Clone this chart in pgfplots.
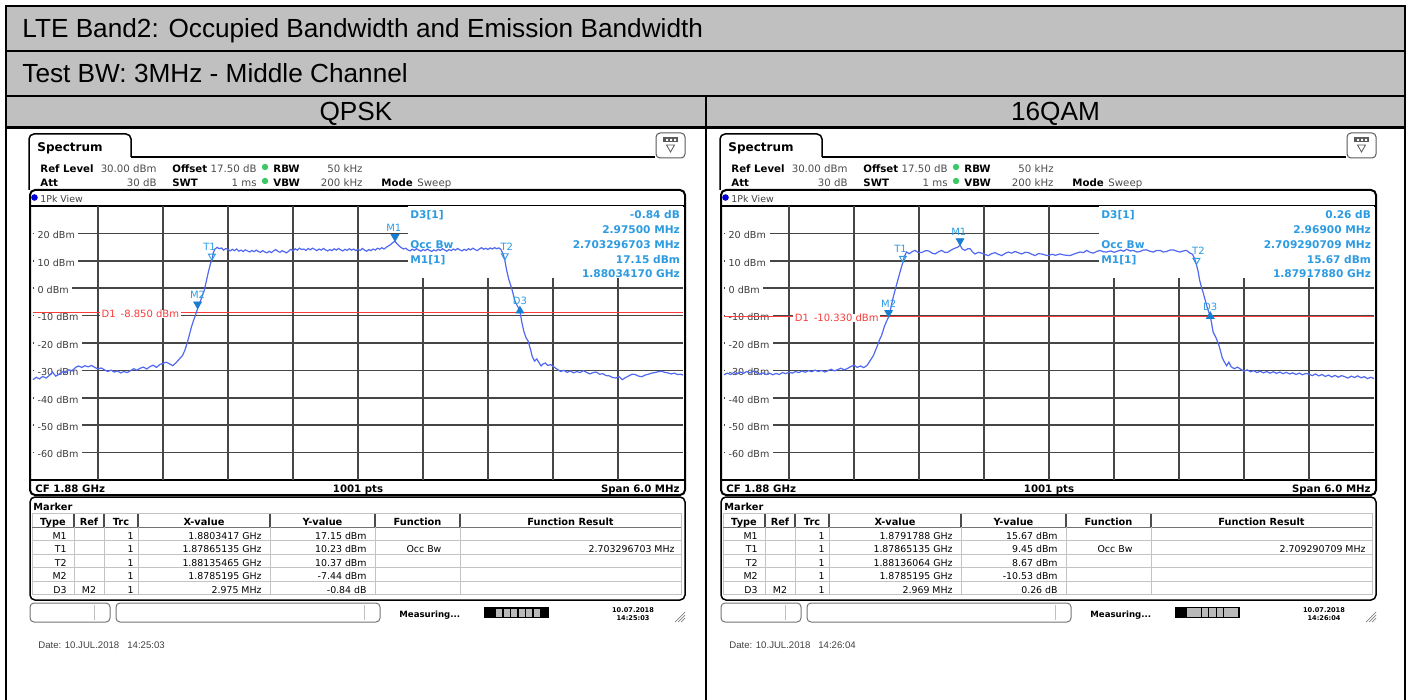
\documentclass[border=0pt]{standalone}
\usepackage{pgfplots}
\pgfplotsset{compat=1.18}
\usepackage{fontspec}
\setmainfont{Liberation Sans}
\newfontfamily\rs{DejaVu Sans}
\newcommand\fs[1]{\fontsize{#1pt}{#1pt}\selectfont}
\definecolor{tgray}{RGB}{192,192,192}
\definecolor{trc}{RGB}{80,105,240}
\definecolor{mk}{RGB}{45,155,225}
\definecolor{mkd}{RGB}{25,125,210}
\definecolor{dred}{RGB}{250,60,60}
\definecolor{gridc}{RGB}{70,70,70}
\definecolor{lbl}{RGB}{60,60,60}
\definecolor{tline}{RGB}{195,195,195}
\definecolor{dotg}{RGB}{60,200,100}

\pgfplotsset{spec/.style={
  scale only axis, width=325pt, height=137pt, anchor=north west,
  xmin=-3, xmax=3, ymin=-70, ymax=30,
  xtick={-2.4,-1.8,-1.2,-0.6,0,0.6,1.2,1.8,2.4},
  ytick={-60,-50,-40,-30,-20,-10,0,10,20},
  xticklabels={}, yticklabels={}, major tick length=0pt,
  grid=major, major grid style={draw=gridc, line width=0.75pt},
  axis line style={draw=none}, clip=false,
}}

\newcommand\axcommon{%
  \fill[white] (axis cs:0.4615,30) rectangle (axis cs:3,3.7);
  \pgfplotsinvokeforeach{20,10,0,-10,-20,-30,-40,-50,-60}{%
    \node[anchor=mid west, fill=white, inner xsep=1.8pt, inner ysep=0.3pt, text=lbl, xshift=0.3pt]
      at (axis cs:-3,##1) {\rs\fs{4.8}##1 dBm};}%
}
\newcommand\infobox[5]{%
  \node[anchor=mid west, text=mk, inner sep=0pt] at (axis cs:0.48,27.4) {\rs\bfseries\fs{5.3}D3[1]};
  \node[anchor=mid west, text=mk, inner sep=0pt] at (axis cs:0.48,16.5) {\rs\bfseries\fs{5.3}Occ Bw};
  \node[anchor=mid west, text=mk, inner sep=0pt] at (axis cs:0.48,11.0) {\rs\bfseries\fs{5.3}M1[1]};
  \node[anchor=mid east, text=mk, inner sep=0pt] at (axis cs:2.975,27.4) {\rs\bfseries\fs{5.3}#1};
  \node[anchor=mid east, text=mk, inner sep=0pt] at (axis cs:2.975,21.9) {\rs\bfseries\fs{5.3}#2};
  \node[anchor=mid east, text=mk, inner sep=0pt] at (axis cs:2.975,16.5) {\rs\bfseries\fs{5.3}#3};
  \node[anchor=mid east, text=mk, inner sep=0pt] at (axis cs:2.975,11.0) {\rs\bfseries\fs{5.3}#4};
  \node[anchor=mid east, text=mk, inner sep=0pt] at (axis cs:2.975,5.9) {\rs\bfseries\fs{5.3}#5};
}
\newcommand\markers[5]{%
  \addplot[only marks, mark=triangle, mark size=2pt, mark options={yshift=2pt, rotate=180, draw=mk, line width=0.45pt}] coordinates {(#1) (#2)};
  \addplot[only marks, mark=triangle*, mark size=2.2pt, mark options={yshift=2.2pt, rotate=180, fill=mkd, draw=mkd}] coordinates {(#3) (#4)};
  \addplot[only marks, mark=triangle*, mark size=2.2pt, mark options={fill=mkd, draw=mkd}] coordinates {(#5)};
  \node[anchor=south, text=mk, inner sep=0pt, xshift=-1.2pt, yshift=4.6pt] at (axis cs:#1) {\rs\fs{5}T1};
  \node[anchor=south, text=mk, inner sep=0pt, xshift=1.0pt, yshift=4.6pt] at (axis cs:#2) {\rs\fs{5}T2};
  \node[anchor=south, text=mk, inner sep=0pt, xshift=-0.6pt, yshift=4.8pt] at (axis cs:#3) {\rs\fs{5}M1};
  \node[anchor=south, text=mk, inner sep=0pt, yshift=4.8pt] at (axis cs:#4) {\rs\fs{5}M2};
  \node[anchor=south, text=mk, inner sep=0pt, yshift=2.8pt] at (axis cs:#5) {\rs\fs{5}D3};
}
\newcommand\mrow[7]{%
  \node[anchor=mid east] at (67,#1) {\rs\fs{4.7}#2};
  \node[anchor=mid] at (89,#1) {\rs\fs{4.7}#3};
  \node[anchor=mid east] at (134,#1) {\rs\fs{4.7}1};
  \node[anchor=mid east] at (262,#1) {\rs\fs{4.7}#4};
  \node[anchor=mid east] at (367,#1) {\rs\fs{4.7}#5};
  \node[anchor=mid] at (424,#1) {\rs\fs{4.7}#6};
  \node[anchor=mid east] at (675,#1) {\rs\fs{4.7}#7};
}
\newcommand\screen[4]{%
\begin{scope}[every node/.style={inner sep=0pt}]
  \draw[line width=0.75pt, rounded corners=2.5pt] (29,190) -- (29,134) -- (131,134) -- (131,157);
  \draw[line width=0.75pt] (131,157) -- (655,157);
  \draw[line width=0.5pt, draw=black!65, fill=white, rounded corners=2pt] (656,133) rectangle (685,158);
  \fill[black!65] (663,137) rectangle (678,142.5);
  \fill[white] (666,139) rectangle (668,141) (670,139) rectangle (672,141) (674,139) rectangle (676,141);
  \draw[black!65, line width=0.4pt] (666.5,145) -- (674.5,145) -- (670.5,152) -- cycle;
  \node[anchor=mid west] at (37,146) {\rs\bfseries\fs{6}Spectrum};
  \node[anchor=mid west] at (40,167) {\rs\bfseries\fs{5.1}Ref Level};
  \node[anchor=mid east, text=black!70] at (157,167) {\rs\fs{5.1}30.00 dBm};
  \node[anchor=mid west] at (172,167) {\rs\bfseries\fs{5.1}Offset};
  \node[anchor=mid east, text=black!70] at (257,167) {\rs\fs{5.1}17.50 dB};
  \fill[dotg] (265,167) circle (3.2);
  \node[anchor=mid west] at (273,167) {\rs\bfseries\fs{5.1}RBW};
  \node[anchor=mid east, text=black!70] at (363,167) {\rs\fs{5.1}50 kHz};
  \node[anchor=mid west] at (40,181) {\rs\bfseries\fs{5.1}Att};
  \node[anchor=mid east, text=black!70] at (157,181) {\rs\fs{5.1}30 dB};
  \node[anchor=mid west] at (172,181) {\rs\bfseries\fs{5.1}SWT};
  \node[anchor=mid east, text=black!70] at (257,181) {\rs\fs{5.1}1 ms};
  \fill[dotg] (265,181) circle (3.2);
  \node[anchor=mid west] at (273,181) {\rs\bfseries\fs{5.1}VBW};
  \node[anchor=mid east, text=black!70] at (363,181) {\rs\fs{5.1}200 kHz};
  \node[anchor=mid west] at (381,181) {\rs\bfseries\fs{5.1}Mode};
  \node[anchor=mid west, text=black!70] at (417,181) {\rs\fs{5.1}Sweep};
  \draw[line width=1pt, rounded corners=2.5pt] (30,190) rectangle (685,495);
  \draw[line width=0.6pt] (30,206) -- (685,206);
  \draw[line width=0.6pt] (30,480) -- (685,480);
  \fill[blue!85!black] (34.5,197.5) circle (3.3);
  \node[anchor=mid west, text=black!75] at (40,197.5) {\rs\fs{4.7}1Pk View};
  \node[anchor=mid west] at (35,487.5) {\rs\bfseries\fs{5.1}CF 1.88 GHz};
  \node[anchor=mid] at (358,487.5) {\rs\bfseries\fs{5.1}1001 pts};
  \node[anchor=mid east] at (680,487.5) {\rs\bfseries\fs{5.1}Span 6.0 MHz};
  % marker table
  \draw[line width=0.75pt, rounded corners=2.5pt] (30,497) rectangle (685,600);
  \node[anchor=mid west] at (33,505) {\rs\bfseries\fs{4.9}Marker};
  \draw[tline, line width=0.4pt] (32,513) rectangle (681,594.5);
  \foreach \yy in {540.5,554,567.5,581} {\draw[tline, line width=0.4pt] (32,\yy) -- (681,\yy);}
  \draw[black!55, line width=0.5pt] (32,527) -- (681,527);
  \foreach \xx in {74,104,138,270,375,460} {\draw[tline, line width=0.4pt] (\xx,527) -- (\xx,594.5); \draw[black!70, line width=0.8pt] (\xx,514) -- (\xx,527);}
  \node[anchor=mid] at (53,520) {\rs\bfseries\fs{4.9}Type};
  \node[anchor=mid] at (89,520) {\rs\bfseries\fs{4.9}Ref};
  \node[anchor=mid] at (121,520) {\rs\bfseries\fs{4.9}Trc};
  \node[anchor=mid] at (204,520) {\rs\bfseries\fs{4.9}X-value};
  \node[anchor=mid] at (322.5,520) {\rs\bfseries\fs{4.9}Y-value};
  \node[anchor=mid] at (417.5,520) {\rs\bfseries\fs{4.9}Function};
  \node[anchor=mid] at (570.5,520) {\rs\bfseries\fs{4.9}Function Result};
  % toolbar
  \draw[black!55, line width=0.5pt, rounded corners=2pt] (30,603) rectangle (110,622);
  \draw[black!25, line width=0.4pt] (94,605) -- (94,620);
  \draw[black!55, line width=0.5pt, rounded corners=2pt] (116,603) rectangle (380,622);
  \draw[black!25, line width=0.4pt] (364,605) -- (364,620);
  \node[anchor=mid west] at (399,612) {\rs\bfseries\fs{4.3}Measuring...};
  #3
  \node[anchor=mid] at (633,607.5) {\rs\bfseries\fs{3.3}10.07.2018};
  \node[anchor=mid] at (633,615.5) {\rs\bfseries\fs{3.3}#1};
  \draw[black!50, line width=0.35pt] (675,622) -- (685,612) (678,622) -- (685,615) (681,622) -- (685,618);
  \node[anchor=mid west, text=black!75] at (38,643) {\fs{4.8}#2};
  #4
\end{scope}}

\begin{document}
\begin{tikzpicture}[x=0.5pt,y=-0.5pt]
\path[use as bounding box] (0,0) rectangle (1411,700);
% ---------- table frame ----------
\fill[tgray] (6,6) rectangle (1405,127);
\draw[line width=1pt] (6,51) -- (1405,51);
\draw[line width=0.6pt] (6,96) -- (1405,96);
\draw[line width=1.2pt] (6,127.5) -- (1405,127.5);
\draw[line width=1.2pt] (706,96) -- (706,700);
\draw[line width=1.2pt] (6,700) -- (6,6) -- (1405,6) -- (1405,700);
\node[anchor=base west, inner sep=0pt] at (22,38) {\fs{13.1}LTE Band2: Occupied Bandwidth and Emission Bandwidth};
\node[anchor=base west, inner sep=0pt] at (22,83) {\fs{13.1}Test BW: 3MHz - Middle Channel};
\node[anchor=base, inner sep=0pt] at (356,121) {\fs{13.1}QPSK};
\node[anchor=base, inner sep=0pt] at (1055.5,121) {\fs{13.1}16QAM};

% ---------- panel 1 screen ----------
\screen{14:25:03}{Date: 10.JUL.2018\hspace{4pt}14:25:03}{%
  \fill[black] (484,607) rectangle (549,618);
  \foreach \i in {0,...,5} {\fill[gray!55] ({496+\i*7.6},608.5) rectangle ({502+\i*7.6},616.5);}
}{%
  \mrow{533.8}{M1}{}{1.8803417 GHz}{17.15 dBm}{}{}
  \mrow{547.3}{T1}{}{1.87865135 GHz}{10.23 dBm}{Occ Bw}{2.703296703 MHz}
  \mrow{560.8}{T2}{}{1.88135465 GHz}{10.37 dBm}{}{}
  \mrow{574.3}{M2}{}{1.8785195 GHz}{-7.44 dBm}{}{}
  \mrow{587.8}{D3}{M2}{2.975 MHz}{-0.84 dB}{}{}
}

% ---------- panel 2 screen ----------
\begin{scope}[xshift=345.5pt]
\screen{14:26:04}{Date: 10.JUL.2018\hspace{4pt}14:26:04}{%
  \fill[black] (484,607) rectangle (549,618);
  \foreach \i in {0,...,6} {\fill[gray!55] ({496+\i*7.4},608) rectangle ({502.5+\i*7.4},617);}
}{%
  \mrow{533.8}{M1}{}{1.8791788 GHz}{15.67 dBm}{}{}
  \mrow{547.3}{T1}{}{1.87865135 GHz}{9.45 dBm}{Occ Bw}{2.709290709 MHz}
  \mrow{560.8}{T2}{}{1.88136064 GHz}{8.67 dBm}{}{}
  \mrow{574.3}{M2}{}{1.8785195 GHz}{-10.53 dBm}{}{}
  \mrow{587.8}{D3}{M2}{2.969 MHz}{0.26 dB}{}{}
}
\end{scope}

% ---------- QPSK spectrum ----------
\begin{axis}[spec, at={(16.5pt,-103pt)}]
\axcommon
\infobox{-0.84 dB}{2.97500 MHz}{2.703296703 MHz}{17.15 dBm}{1.88034170 GHz}
\addplot[dred, line width=0.6pt] coordinates {(-3,-8.85) (3,-8.85)};
\node[anchor=mid west, fill=white, inner xsep=0.8pt, inner ysep=0.2pt, text=dred] at (axis cs:-2.385,-8.85) {\rs\fs{5}D1\hspace{2.5pt}-8.850 dBm};
\addplot[trc, line width=0.6pt] coordinates {
(-3.00,-33.4) (-2.97,-32.5) (-2.94,-33.1) (-2.91,-32.2) (-2.88,-32.8) (-2.85,-31.9) (-2.82,-30.6) (-2.79,-32.1)
(-2.76,-31.4) (-2.73,-30.5) (-2.70,-30.9) (-2.67,-29.8) (-2.64,-30.2) (-2.61,-29.0) (-2.58,-28.4) (-2.55,-28.9)
(-2.52,-28.3) (-2.49,-28.7) (-2.46,-28.2) (-2.43,-28.9) (-2.40,-29.5) (-2.37,-29.1) (-2.34,-29.8) (-2.31,-30.4)
(-2.28,-29.9) (-2.25,-30.6) (-2.22,-30.2) (-2.19,-30.9) (-2.16,-30.4) (-2.13,-30.8) (-2.10,-30.1) (-2.07,-29.4)
(-2.04,-29.9) (-2.01,-29.2) (-1.98,-28.8) (-1.95,-29.5) (-1.92,-28.6) (-1.89,-28.1) (-1.86,-28.9) (-1.83,-27.9)
(-1.80,-27.4) (-1.77,-27.0) (-1.74,-27.6) (-1.71,-28.3) (-1.68,-27.2) (-1.65,-25.9) (-1.62,-24.6) (-1.60,-22.8)
(-1.58,-20.4) (-1.56,-17.6) (-1.54,-14.5) (-1.52,-12.0) (-1.50,-9.8) (-1.4805,-7.44) (-1.46,-5.3) (-1.44,-3.1)
(-1.42,-0.9) (-1.40,2.6) (-1.38,6.1) (-1.36,9.2) (-1.34865,10.23) (-1.335,13.0) (-1.32,14.3) (-1.30,14.9)
(-1.28,14.4) (-1.26,14.7) (-1.24,13.9) (-1.22,14.5) (-1.20,14.1) (-1.18,13.6) (-1.16,14.2) (-1.14,13.7)
(-1.12,14.3) (-1.10,13.5) (-1.08,13.9) (-1.06,13.4) (-1.04,14.0) (-1.02,13.6) (-1.00,13.2) (-0.98,13.8)
(-0.96,13.3) (-0.94,13.9) (-0.92,13.4) (-0.90,13.1) (-0.88,13.7) (-0.86,13.2) (-0.84,12.9) (-0.82,13.5)
(-0.80,13.0) (-0.78,13.6) (-0.76,14.1) (-0.74,13.5) (-0.72,13.1) (-0.70,13.7) (-0.68,13.3) (-0.66,12.9)
(-0.64,13.5) (-0.62,14.2) (-0.60,13.6) (-0.58,14.4) (-0.56,13.9) (-0.54,14.6) (-0.52,14.1) (-0.50,14.3)
(-0.48,13.8) (-0.46,14.5) (-0.44,14.0) (-0.42,14.6) (-0.40,14.2) (-0.38,13.7) (-0.36,14.3) (-0.34,13.9)
(-0.32,14.5) (-0.30,14.0) (-0.28,13.6) (-0.26,14.1) (-0.24,13.7) (-0.22,14.4) (-0.20,13.9) (-0.18,14.5)
(-0.16,14.0) (-0.14,13.6) (-0.12,14.2) (-0.10,13.8) (-0.08,14.4) (-0.06,13.9) (-0.04,14.3) (-0.02,13.7)
(0.00,14.2) (0.02,13.8) (0.04,14.5) (0.06,13.9) (0.08,13.5) (0.10,14.1) (0.12,13.7) (0.14,14.3)
(0.16,13.9) (0.18,14.6) (0.20,14.2) (0.22,14.8) (0.24,14.3) (0.26,14.9) (0.28,15.4) (0.30,15.9)
(0.32,16.6) (0.3417,17.15) (0.36,16.2) (0.38,15.4) (0.40,14.8) (0.42,14.3) (0.44,14.6) (0.46,14.0)
(0.48,13.6) (0.50,14.2) (0.52,13.8) (0.54,14.4) (0.56,13.9) (0.58,13.5) (0.60,14.1) (0.62,13.7)
(0.64,14.3) (0.66,13.8) (0.68,13.4) (0.70,14.0) (0.72,13.6) (0.74,14.2) (0.76,13.8) (0.78,14.4)
(0.80,13.9) (0.82,13.5) (0.84,14.1) (0.86,13.7) (0.88,14.3) (0.90,13.9) (0.92,14.5) (0.94,14.0)
(0.96,13.6) (0.98,14.2) (1.00,13.8) (1.02,14.4) (1.04,14.0) (1.06,14.6) (1.08,14.1) (1.10,13.7)
(1.12,14.3) (1.14,14.8) (1.16,14.2) (1.18,14.6) (1.20,14.1) (1.22,14.7) (1.24,14.3) (1.26,14.8)
(1.28,14.4) (1.30,14.7) (1.32,14.1) (1.34,12.4) (1.35465,10.37) (1.37,7.0) (1.39,3.5) (1.42,-0.3)
(1.45,-4.8) (1.4945,-8.28) (1.51,-12.0) (1.53,-15.6) (1.55,-18.0) (1.57,-19.3) (1.59,-22.0) (1.61,-25.1)
(1.63,-26.6) (1.65,-25.8) (1.67,-27.1) (1.69,-28.4) (1.71,-27.6) (1.73,-27.3) (1.75,-28.2) (1.78,-27.9)
(1.81,-28.8) (1.84,-29.6) (1.87,-30.4) (1.90,-30.0) (1.93,-30.7) (1.96,-30.2) (1.99,-30.9) (2.02,-30.4)
(2.05,-30.8) (2.08,-30.1) (2.11,-30.7) (2.14,-31.3) (2.17,-30.8) (2.20,-30.6) (2.23,-31.4) (2.26,-31.2)
(2.29,-31.9) (2.32,-32.0) (2.35,-32.6) (2.38,-32.8) (2.41,-32.3) (2.44,-33.4) (2.47,-32.6) (2.50,-32.0)
(2.53,-31.4) (2.56,-31.5) (2.59,-32.1) (2.62,-32.3) (2.65,-31.7) (2.68,-31.4) (2.71,-31.0) (2.74,-30.8)
(2.77,-30.5) (2.80,-30.3) (2.83,-30.7) (2.86,-30.9) (2.89,-31.3) (2.92,-31.0) (2.95,-31.5) (2.98,-31.4)
(3.00,-31.7)
};
\markers{-1.34865,10.23}{1.35465,10.37}{0.3417,17.15}{-1.4805,-7.44}{1.4945,-8.28}
\end{axis}

% ---------- 16QAM spectrum ----------
\begin{axis}[spec, at={(362pt,-103pt)}]
\axcommon
\infobox{0.26 dB}{2.96900 MHz}{2.709290709 MHz}{15.67 dBm}{1.87917880 GHz}
\addplot[dred, line width=0.6pt] coordinates {(-3,-10.33) (3,-10.33)};
\node[anchor=mid west, fill=white, inner xsep=0.8pt, inner ysep=0.2pt, text=dred] at (axis cs:-2.365,-10.33) {\rs\fs{5}D1\hspace{2.5pt}-10.330 dBm};
\addplot[trc, line width=0.6pt] coordinates {
(-3.00,-31.6) (-2.97,-31.0) (-2.94,-31.5) (-2.91,-30.8) (-2.88,-31.3) (-2.85,-30.6) (-2.82,-31.1) (-2.79,-30.4)
(-2.76,-30.9) (-2.73,-30.2) (-2.70,-30.8) (-2.67,-31.4) (-2.64,-30.9) (-2.61,-31.5) (-2.58,-31.0) (-2.55,-31.6)
(-2.52,-31.1) (-2.49,-31.5) (-2.46,-30.8) (-2.43,-31.2) (-2.40,-30.6) (-2.37,-31.0) (-2.34,-30.4) (-2.31,-30.8)
(-2.28,-30.2) (-2.25,-30.7) (-2.22,-30.1) (-2.19,-30.5) (-2.16,-29.9) (-2.13,-30.4) (-2.10,-30.0) (-2.07,-30.6)
(-2.04,-30.1) (-2.01,-29.6) (-1.98,-30.2) (-1.95,-29.7) (-1.92,-29.2) (-1.89,-29.8) (-1.86,-29.3) (-1.83,-28.6)
(-1.80,-28.1) (-1.77,-28.9) (-1.74,-28.4) (-1.71,-29.0) (-1.68,-28.2) (-1.65,-26.4) (-1.62,-24.5) (-1.59,-21.6)
(-1.565,-18.9) (-1.545,-17.2) (-1.52,-14.0) (-1.50,-12.1) (-1.4805,-10.53) (-1.46,-7.2) (-1.44,-3.6) (-1.42,-0.6)
(-1.40,2.3) (-1.38,5.2) (-1.36,8.0) (-1.34865,9.45) (-1.335,11.6) (-1.315,13.2) (-1.29,12.6) (-1.26,13.4)
(-1.237,13.8) (-1.21,13.1) (-1.175,13.0) (-1.14,13.7) (-1.11,13.6) (-1.08,12.8) (-1.052,12.5) (-1.02,13.3)
(-0.99,13.8) (-0.96,13.0) (-0.93,13.2) (-0.90,14.0) (-0.868,14.6) (-0.845,14.9) (-0.8212,15.67) (-0.80,14.3)
(-0.775,13.8) (-0.75,14.4) (-0.729,14.4) (-0.705,13.2) (-0.683,12.5) (-0.65,13.1) (-0.621,12.8) (-0.59,12.3)
(-0.56,11.9) (-0.53,12.6) (-0.498,13.0) (-0.47,12.4) (-0.437,11.9) (-0.405,12.7) (-0.375,13.2) (-0.345,12.8)
(-0.314,13.4) (-0.28,12.9) (-0.252,12.5) (-0.22,13.1) (-0.19,13.0) (-0.16,12.4) (-0.129,11.9) (-0.10,12.6)
(-0.068,12.5) (-0.035,12.1) (-0.006,11.9) (0.03,12.4) (0.06,12.0) (0.10,12.5) (0.14,12.1) (0.194,11.9)
(0.24,12.6) (0.286,13.2) (0.32,13.0) (0.347,13.8) (0.38,13.1) (0.409,12.8) (0.44,13.4) (0.47,13.8)
(0.50,13.3) (0.532,13.2) (0.57,13.6) (0.60,13.1) (0.624,13.4) (0.66,13.9) (0.69,13.5) (0.717,14.2)
(0.75,13.6) (0.778,13.8) (0.81,13.2) (0.84,13.4) (0.87,13.9) (0.901,14.0) (0.93,13.5) (0.963,13.2)
(0.99,13.7) (1.024,13.8) (1.055,13.2) (1.086,13.4) (1.115,13.9) (1.147,14.0) (1.18,13.5) (1.209,13.2)
(1.24,13.6) (1.27,13.8) (1.30,12.8) (1.325,12.4) (1.345,10.6) (1.36064,8.67) (1.377,6.0) (1.39,3.0)
(1.407,0.4) (1.42,-1.2) (1.438,-3.8) (1.46,-7.0) (1.4885,-10.27) (1.50,-12.6) (1.514,-15.9) (1.545,-18.4)
(1.57,-21.0) (1.60,-25.5) (1.62,-27.0) (1.64,-28.3) (1.66,-27.0) (1.68,-28.6) (1.71,-29.4) (1.74,-28.8)
(1.77,-29.6) (1.80,-30.3) (1.83,-29.8) (1.86,-30.5) (1.89,-30.1) (1.92,-30.8) (1.95,-30.3) (1.98,-30.9)
(2.01,-30.4) (2.04,-31.0) (2.07,-30.5) (2.10,-31.1) (2.13,-30.6) (2.16,-31.2) (2.19,-30.7) (2.22,-31.3)
(2.25,-30.9) (2.28,-31.5) (2.31,-31.0) (2.34,-31.6) (2.37,-31.1) (2.40,-31.4) (2.43,-31.9) (2.46,-31.3)
(2.49,-32.0) (2.52,-31.5) (2.55,-32.2) (2.58,-31.7) (2.61,-32.4) (2.64,-31.8) (2.67,-32.5) (2.70,-31.9)
(2.73,-32.3) (2.76,-32.8) (2.79,-32.1) (2.82,-32.6) (2.85,-32.0) (2.88,-32.7) (2.91,-32.3) (2.94,-33.0)
(2.97,-32.5) (3.00,-33.0)
};
\markers{-1.34865,9.45}{1.36064,8.67}{-0.8212,15.67}{-1.4805,-10.53}{1.4885,-10.27}
\end{axis}
\end{tikzpicture}
\end{document}
